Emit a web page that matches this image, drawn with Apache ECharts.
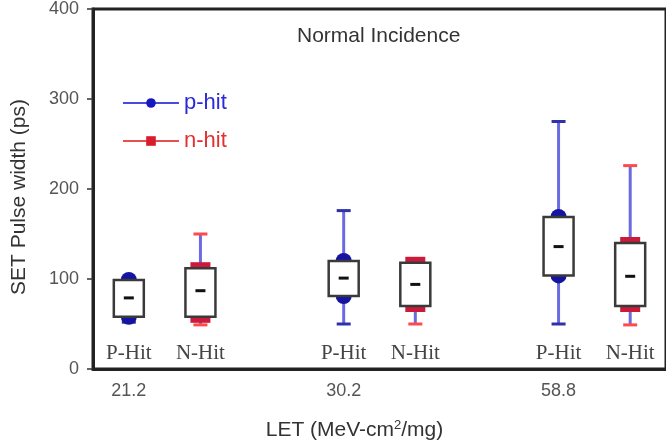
<!DOCTYPE html>
<html>
<head>
<meta charset="utf-8">
<script src="https://cdn.jsdelivr.net/npm/echarts@6/dist/echarts.min.js"></script>
<style>
  html, body { margin: 0; padding: 0; background: #fff; }
  #cn { width: 666px; height: 446px; }
</style>
</head>
<body>
<div id="cn"></div>
<script>
'use strict';

// slots on the x axis (two boxes per LET value, one empty slot between groups)
const slots = ['21.2 P', '21.2 N', 'gap A', '30.2 P', '30.2 N', 'gap B', '58.8 P', '58.8 N'];
const tickLabels = ['21.2', '', '', '30.2', '', '', '58.8', ''];

// [slot, min, q1, median, q3, max]  (ps)
const pHit = [
    ['21.2 P', 52, 58, 79, 99, 101],
    ['30.2 P', 50, 81, 101, 120, 176],
    ['58.8 P', 50, 104, 136, 169, 275]
];
const nHit = [
    ['21.2 N', 49, 58, 87, 112, 150],
    ['30.2 N', 50, 70, 94, 118, 122],
    ['58.8 N', 49, 70, 103, 140, 226]
];

const yTicks = [0, 100, 200, 300, 400];

const FONT = "'Liberation Sans', Arial, sans-serif";
const SERIF = "'Liberation Serif', 'Times New Roman', serif";

/**
 * box + whisker drawn through the axes
 */
const makeRender = (label, capColor, markColor, markType) => (params, api) => {
    const idx = api.value(0);
    const pt = v => api.coord([idx, v]);
    const cx = pt(api.value(3))[0];
    const yMin = pt(api.value(1))[1];
    const yQ1 = pt(api.value(2))[1];
    const yMed = pt(api.value(3))[1];
    const yQ3 = pt(api.value(4))[1];
    const yMax = pt(api.value(5))[1];
    const y0 = pt(0)[1];
    const half = 15;

    const mark = y => markType === 'circle'
        ? { type: 'circle', shape: { cx: cx, cy: y, r: 8 }, style: { fill: markColor } }
        : { type: 'rect', shape: { x: cx - 10, y: y - 6, width: 20, height: 12 }, style: { fill: markColor } };

    return {
        type: 'group',
        children: [
            { type: 'line', shape: { x1: cx, y1: yMax, x2: cx, y2: yMin }, style: { stroke: '#6a6ae2', lineWidth: 3 } },
            { type: 'line', shape: { x1: cx - 7, y1: yMax, x2: cx + 7, y2: yMax }, style: { stroke: capColor, lineWidth: 3 } },
            { type: 'line', shape: { x1: cx - 7, y1: yMin, x2: cx + 7, y2: yMin }, style: { stroke: capColor, lineWidth: 3 } },
            mark(yQ3),
            mark(yQ1),
            { type: 'rect', shape: { x: cx - half, y: yQ3, width: half * 2, height: yQ1 - yQ3 }, style: { fill: '#fff', stroke: '#3a3a3a', lineWidth: 2.5 } },
            { type: 'rect', shape: { x: cx - 5, y: yMed - 1.5, width: 10, height: 3 }, style: { fill: '#111' } },
            { type: 'text', x: cx, y: y0 - 16, style: { text: label, fill: '#444', font: '21px ' + SERIF, align: 'center', verticalAlign: 'middle' } }
        ]
    };
};

const chart = echarts.init(document.getElementById('cn'));

const option = {
    animation: false,
    title: {
        text: 'Normal Incidence',
        left: 292,
        top: 21,
        textStyle: { fontSize: 21, fontWeight: 'normal', color: '#333', fontFamily: FONT }
    },
    legend: {
        orient: 'vertical',
        left: 117,
        top: 87,
        itemWidth: 56,
        itemHeight: 12,
        itemGap: 16,
        data: [
            { name: 'p-hit', textStyle: { color: '#2a2ad8' } },
            { name: 'n-hit', textStyle: { color: '#e23030' } }
        ],
        textStyle: { fontSize: 22, lineHeight: 22, fontFamily: FONT }
    },
    grid: {
        left: 93,
        top: 8,
        right: -3,
        bottom: 75,
        show: true,
        borderColor: '#222',
        borderWidth: 3
    },
    xAxis: {
        type: 'category',
        data: slots,
        name: 'LET (MeV-cm{sup|2}/mg)',
        nameLocation: 'middle',
        nameGap: 50,
        nameTextStyle: {
            fontSize: 21, color: '#333', fontFamily: FONT, padding: [0, 50, 0, 0],
            rich: { sup: { fontSize: 13, verticalAlign: 'top', padding: [0, 0, 10, 0], fontFamily: FONT, color: '#333' } }
        },
        axisLine: { lineStyle: { color: '#222', width: 3 } },
        axisTick: { length: 6, lineStyle: { color: '#222', width: 2 } },
        axisLabel: {
            interval: 0,
            margin: 13,
            fontSize: 18,
            color: '#555',
            fontFamily: FONT,
            formatter: (v, i) => tickLabels[i]
        },
        splitLine: { show: false }
    },
    yAxis: {
        type: 'value',
        min: yTicks[0],
        max: yTicks[yTicks.length - 1],
        interval: 100,
        name: 'SET Pulse width (ps)',
        nameLocation: 'middle',
        nameGap: 63,
        nameTextStyle: { fontSize: 21, color: '#333', fontFamily: FONT, padding: [0, 16, 0, 0] },
        axisLine: { show: true, lineStyle: { color: '#222', width: 3 } },
        axisTick: { show: true, length: 6, lineStyle: { color: '#333', width: 1.5 } },
        axisLabel: { margin: 14, fontSize: 18, color: '#555', fontFamily: FONT },
        splitLine: { show: false }
    },
    series: [
        {
            name: 'p-hit',
            type: 'line',
            data: [],
            symbol: 'circle',
            itemStyle: { color: '#1818c0' },
            lineStyle: { color: '#4a4ae0', width: 2 }
        },
        {
            name: 'n-hit',
            type: 'line',
            data: [],
            symbol: 'rect',
            itemStyle: { color: '#d81c2c' },
            lineStyle: { color: '#e85050', width: 2 }
        },
        {
            type: 'custom',
            clip: false,
            encode: { x: 0, y: [1, 2, 3, 4, 5] },
            data: pHit,
            renderItem: makeRender('P-Hit', '#3030a8', '#1414a0', 'circle'),
            z: 3
        },
        {
            type: 'custom',
            clip: false,
            encode: { x: 0, y: [1, 2, 3, 4, 5] },
            data: nHit,
            renderItem: makeRender('N-Hit', '#ff4a4a', '#cc1a3a', 'rect'),
            z: 3
        }
    ]
};

chart.setOption(option);
</script>
</body>
</html>
